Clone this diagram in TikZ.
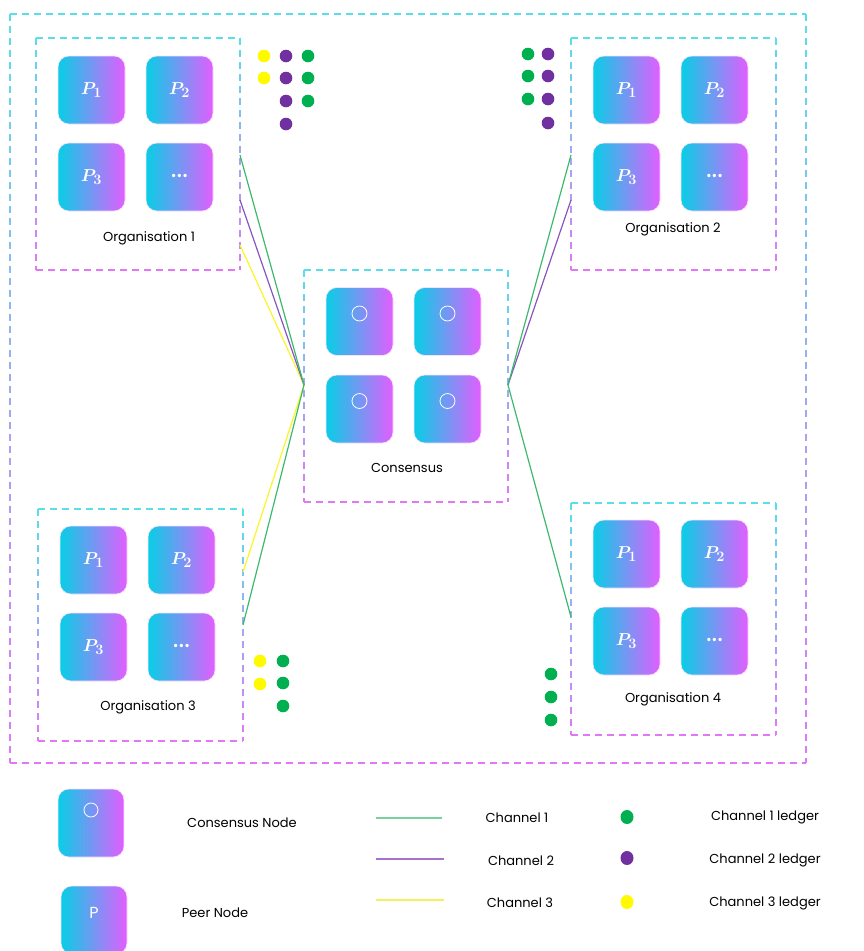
\documentclass[tikz,border=0pt]{standalone}
\usepackage{fontspec}
\setmainfont{Poppins}
\usetikzlibrary{calc}

\definecolor{gcyan}{RGB}{90,222,236}
\definecolor{gviolet}{RGB}{224,120,246}
\definecolor{cardL}{RGB}{8,206,230}
\definecolor{cardR}{RGB}{226,94,255}
\definecolor{ch1}{RGB}{0,176,80}
\definecolor{ch2}{RGB}{112,48,160}
\definecolor{ch3}{RGB}{255,250,0}
\definecolor{ln1}{RGB}{60,185,110}
\definecolor{ln2}{RGB}{135,85,190}
\definecolor{ln3}{RGB}{250,245,40}
\definecolor{lg1}{RGB}{120,210,160}
\definecolor{lg2}{RGB}{165,115,205}
\definecolor{lg3}{RGB}{245,240,90}

\tikzset{
  card/.style={rounded corners=11pt, minimum width=67pt, minimum height=68pt,
    left color=cardL, right color=cardR, draw=white!80!cardR, line width=0.6pt,
    text=white, inner sep=0pt},
  peer/.style={card, font=\fontsize{19}{19}\selectfont\boldmath},
  lbl/.style={font=\fontsize{13}{15}\selectfont, text=black, inner sep=1pt},
  lgd/.style={font=\fontsize{13}{15}\selectfont, text=black, inner sep=1pt},
  chan/.style={line width=1.2pt},
  ledger/.style={radius=6.3pt},
  ring/.style={draw=white, line width=0.8pt},
}

% dashed frame whose colour runs from cyan (top) to violet (bottom)
\newcommand{\gradbox}[4]{%
  \draw[gcyan, line width=1.3pt, dash pattern=on 7pt off 5pt] (#1,#2) -- (#3,#2);
  \draw[gviolet, line width=1.3pt, dash pattern=on 7pt off 5pt] (#1,#4) -- (#3,#4);
  \pgfmathsetmacro\gbh{#4-#2}
  \foreach \t in {0,12,...,\gbh}{%
    \pgfmathtruncatemacro\gbp{100-100*(\t/\gbh)}
    \pgfmathsetmacro\gbe{min(\t+7,\gbh)}
    \draw[gcyan!\gbp!gviolet, line width=1.3pt]
      (#1,#2+\t) -- (#1,#2+\gbe) (#3,#2+\t) -- (#3,#2+\gbe);
  }%
}

% four peer cards of an organisation, top-left card centred at (#2,#3)
\newcommand{\peergroup}[3]{%
  \node[peer] (#1p1) at (#2,#3) {\raisebox{3pt}{$P_1$}};
  \node[peer] (#1p2) at (#2+88,#3) {\raisebox{3pt}{$P_2$}};
  \node[peer] (#1p3) at (#2,#3+87) {\raisebox{3pt}{$P_3$}};
  \node[peer] (#1p4) at (#2+88,#3+87) {\raisebox{3pt}{\fontsize{27}{27}\selectfont ...}};
}

\begin{document}
\begin{tikzpicture}[x=1pt, y=-1pt]
\useasboundingbox (0,0) rectangle (864,951);

% network frame
\gradbox{10}{14}{806}{763}

% organisations and the ordering service
\gradbox{36}{38}{240}{270}
\peergroup{oa}{91.5}{90}
\node[lbl] (oalbl) at (149,238) {Organisation 1};

\gradbox{571}{38}{776}{270}
\peergroup{ob}{626.5}{90}
\node[lbl] (oblbl) at (673,229) {Organisation 2};

\gradbox{38}{509}{243}{741}
\peergroup{oc}{93.5}{560}
\node[lbl] (oclbl) at (148,707) {Organisation 3};

\gradbox{571}{503}{776}{735}
\peergroup{od}{626.5}{554}
\node[lbl] (odlbl) at (673,699) {Organisation 4};

\gradbox{304}{270}{508}{502}
\node[card] (c1) at (359.5,321.5) {};
\node[card] (c2) at (447.5,321.5) {};
\node[card] (c3) at (359.5,409) {};
\node[card] (c4) at (447.5,409) {};
\foreach \c in {c1,c2,c3,c4}
  \draw[ring] ([yshift=8pt]\c.center) circle[radius=7.5pt];
\node[lbl] (clbl) at (407,468) {Consensus};

% channel attachment points
\coordinate (cw) at (304,385);
\coordinate (ce) at (508,385);
\coordinate (oa1) at (240,155);
\coordinate (oa2) at (240,200);
\coordinate (oa3) at (240,245);
\coordinate (ob1) at (571,155);
\coordinate (ob2) at (571,200);
\coordinate (oc3) at (243,572);
\coordinate (oc1) at (243,625);
\coordinate (od1) at (571,617);

% channels
\draw[chan, ln3] (oa3) -- (cw);
\draw[chan, ln3] (oc3) -- (cw);
\draw[chan, ln2] (oa2) -- (cw);
\draw[chan, ln1] (oa1) -- (cw);
\draw[chan, ln1] (oc1) -- (cw);
\draw[chan, ln2] (ob2) -- (ce);
\draw[chan, ln1] (ob1) -- (ce);
\draw[chan, ln1] (od1) -- (ce);

% ledgers held by each organisation
\fill[ch3] (264,56) circle[ledger] (264,78) circle[ledger];
\fill[ch2] (286,56) circle[ledger] (286,78) circle[ledger]
           (286,101) circle[ledger] (286,124) circle[ledger];
\fill[ch1] (308,56) circle[ledger] (308,78) circle[ledger] (308,101) circle[ledger];

\fill[ch1] (528,54) circle[ledger] (528,76) circle[ledger] (528,99) circle[ledger];
\fill[ch2] (548,54) circle[ledger] (548,76) circle[ledger]
           (548,99) circle[ledger] (548,123) circle[ledger];

\fill[ch3] (260,661) circle[ledger] (260,684) circle[ledger];
\fill[ch1] (283,661) circle[ledger] (283,683) circle[ledger] (283,706) circle[ledger];

\fill[ch1] (551,674) circle[ledger] (551,697) circle[ledger] (551,720) circle[ledger];

% legend
\node[card, minimum width=66pt] (lgc) at (91,823) {};
\draw[ring] ([yshift=13pt]lgc.center) circle[radius=7pt];
\node[lgd] (lgctxt) at (242,823) {Consensus Node};

\node[card, minimum width=66pt, font=\fontsize{16}{16}\selectfont] (lgp) at (94,920)
  {\raisebox{14pt}{P}};
\node[lgd] (lgptxt) at (215,913) {Peer Node};

\coordinate (l1a) at (376,818); \coordinate (l1b) at (442,818);
\coordinate (l2a) at (376,859); \coordinate (l2b) at (444,859);
\coordinate (l3a) at (376,900); \coordinate (l3b) at (444,900);
\draw[lg1, line width=2.2pt] (l1a) -- (l1b);
\draw[lg2, line width=2.2pt] (l2a) -- (l2b);
\draw[lg3, line width=1.8pt] (l3a) -- (l3b);
\node[lgd] (l1t) at (517,818) {Channel 1};
\node[lgd] (l2t) at (521,861) {Channel 2};
\node[lgd] (l3t) at (520,903) {Channel 3};

\fill[ch1] (627,817) circle[x radius=6.5pt, y radius=7pt];
\fill[ch2] (627,858) circle[x radius=6.5pt, y radius=7pt];
\fill[ch3] (627,902) circle[x radius=6.5pt, y radius=7pt];
\node[lgd] (k1t) at (765,817) {Channel 1 ledger};
\node[lgd] (k2t) at (765,860) {Channel 2 ledger};
\node[lgd] (k3t) at (765,903) {Channel 3 ledger};
\end{tikzpicture}
\end{document}
